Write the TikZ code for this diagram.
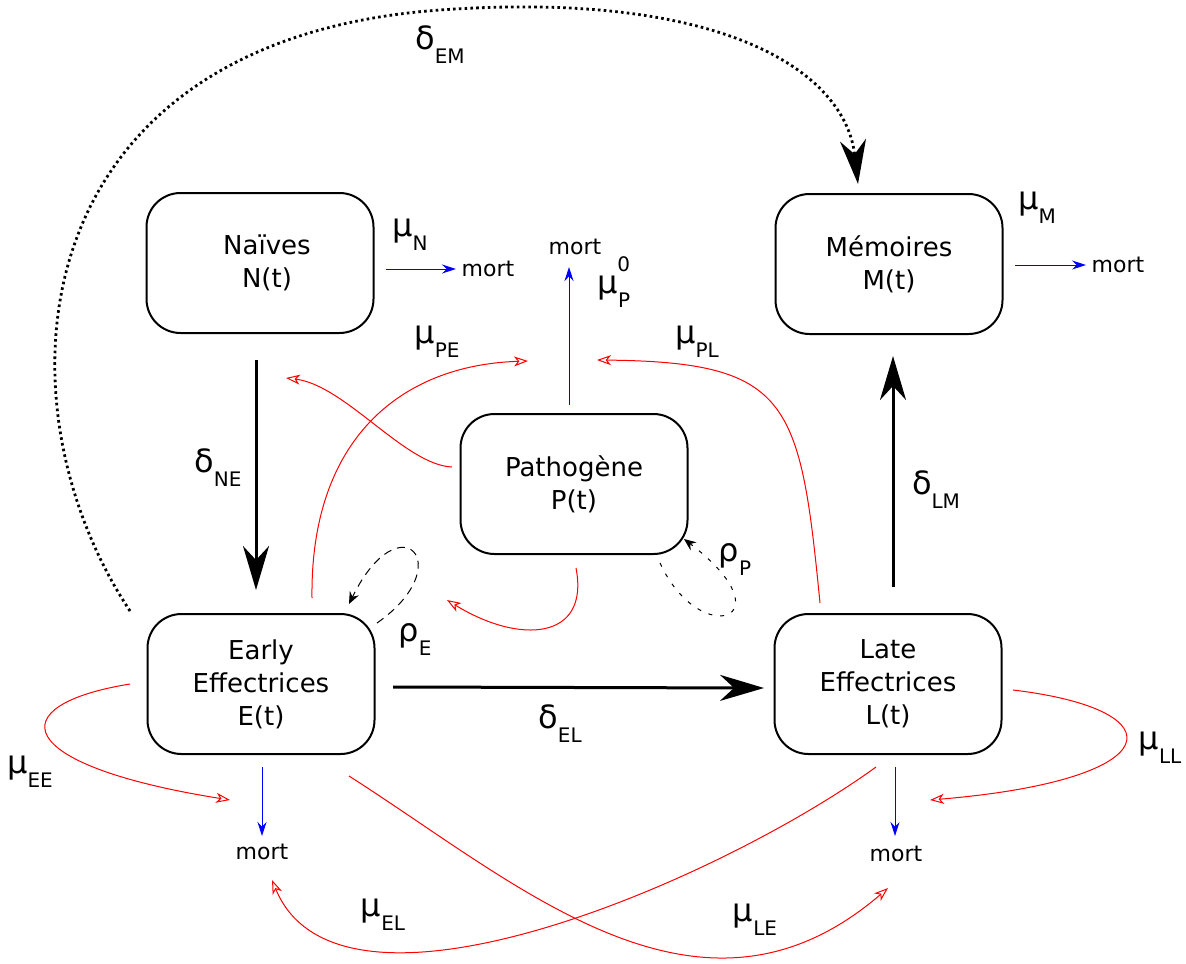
\documentclass[tikz,border=0pt]{standalone}
\usepackage{fontspec}
\setmainfont{DejaVu Sans}
\usetikzlibrary{arrows.meta}
\tikzstyle{compart}=[rectangle,rounded corners=17pt,draw=black,line width=1pt,minimum width=113.5pt,minimum height=70pt,align=center,font=\fontsize{13}{16.5}\selectfont]
\tikzstyle{flux}=[line width=1.5pt,-{Stealth[length=22pt,width=13pt,inset=7pt]}]
\tikzstyle{loss}=[red,line width=0.5pt,-{Stealth[open,length=7pt,width=5pt,inset=2pt]}]
\tikzstyle{death}=[blue,line width=0.5pt,-{Stealth[length=7pt,width=4.5pt]}]
\tikzstyle{mortlabel}=[font=\fontsize{11}{11}\selectfont,inner sep=0pt]
\tikzstyle{ratelabel}=[inner sep=0pt]
\newcommand{\taux}[2]{{\fontsize{16}{16}\selectfont #1}\raisebox{-7pt}{\fontsize{10}{10}\selectfont #2}}

\begin{document}
\begin{tikzpicture}[x=0.5pt,y=-0.5pt]
	\useasboundingbox (0,0) rectangle (1186,963);
	% compartiments
	\node[compart] (N) at (260,263) {\hspace*{7pt}Naïves\\\hspace*{7pt}N(t)};
	\node[compart] (M) at (889,264) {Mémoires\\M(t)};
	\node[compart] (P) at (574,484) {Pathogène\\P(t)};
	\node[compart] (E) at (261,684) {Early\\Effectrices\\E(t)};
	\node[compart] (L) at (888,684) {Late\\Effectrices\\L(t)};
	% mort
	\node[mortlabel] (mN) at (488,269) {mort};
	\node[mortlabel] (mM) at (1118,265) {mort};
	\node[mortlabel] (mP) at (575,247) {mort};
	\node[mortlabel] (mE) at (262,852) {mort};
	\node[mortlabel] (mL) at (896,854) {mort};
	% points libres
	\coordinate (neS) at (256,360);
	\coordinate (neE) at (256,590);
	\coordinate (elS) at (393,687);
	\coordinate (elE) at (764,688);
	\coordinate (lmS) at (893,587);
	\coordinate (lmE) at (893,356);
	\coordinate (emS) at (130,611);
	\coordinate (emE) at (858,184);
	% transitions
	\draw[flux] (neS) -- (neE);
	\draw[flux] (elS) -- (elE);
	\draw[flux] (lmS) -- (lmE);
	\draw[flux,line width=1.4pt,dash pattern=on 1.3pt off 1.6pt] (emS) .. controls (-10,400) and (20,40) .. (440,10)
		.. controls (720,-10) and (845,70) .. (emE);
	% morts naturelles
	\draw[death] (386,269) -- (456,269);
	\draw[death] (1015,265) -- (1086,265);
	\draw[death] (569,405) -- (569,267);
	\draw[death] (262,767) -- (262,836);
	\draw[death] (895,767) -- (895,836);
	% interactions
	\draw[loss] (452,467) .. controls (405,465) and (345,385) .. (286,378);
	\draw[loss] (312,598) .. controls (310,440) and (400,365) .. (528,361);
	\draw[loss] (576,568) .. controls (590,640) and (520,645) .. (447,600);
	\draw[loss] (820,603) .. controls (800,400) and (790,362) .. (597,360);
	\draw[loss] (130,684) .. controls (0,705) and (10,765) .. (230,800);
	\draw[loss] (1013,690) .. controls (1180,710) and (1170,780) .. (930,800);
	\draw[loss] (349,776) .. controls (520,885) and (700,1050) .. (888,888);
	\draw[loss] (876,767) .. controls (720,880) and (340,1045) .. (272,880);
	% proliferation
	\draw[dash pattern=on 4pt off 3pt,line width=0.5pt,-{Stealth[length=6pt,width=5pt]}] (377,623) .. controls (460,565) and (400,500) .. (349,604);
	\draw[dash pattern=on 2pt off 4pt,line width=0.5pt,-{Stealth[length=6pt,width=5pt]}] (660,563) .. controls (700,650) and (790,620) .. (684,539);
	% taux
	\node[ratelabel] (tN) at (410,235) {\taux{μ}{N}};
	\node[ratelabel] (tM) at (1037,208) {\taux{μ}{M}};
	\node[ratelabel] (tPE) at (437,342) {\taux{μ}{PE}};
	\node[ratelabel] (tPL) at (697,342) {\taux{μ}{PL}};
	\node[ratelabel] (tP) at (614,282) {{\fontsize{16}{16}\selectfont μ}\raisebox{-7pt}{\fontsize{10}{10}\selectfont P}\llap{\raisebox{11pt}{\fontsize{10}{10}\selectfont 0}}};
	\node[ratelabel] (tNE) at (218,468) {\taux{δ}{NE}};
	\node[ratelabel] (tLM) at (936,490) {\taux{δ}{LM}};
	\node[ratelabel] (tEL) at (560,724) {\taux{δ}{EL}};
	\node[ratelabel] (tEM) at (440,45) {\taux{δ}{EM}};
	\node[ratelabel] (rE) at (415,640) {\taux{ρ}{E}};
	\node[ratelabel] (rP) at (735,560) {\taux{ρ}{P}};
	\node[ratelabel] (tEE) at (30,772) {\taux{μ}{EE}};
	\node[ratelabel] (tLL) at (1160,748) {\taux{μ}{LL}};
	\node[ratelabel] (tLE) at (755,920) {\taux{μ}{LE}};
	\node[ratelabel] (tELm) at (383,915) {\taux{μ}{EL}};
\end{tikzpicture}
\end{document}
